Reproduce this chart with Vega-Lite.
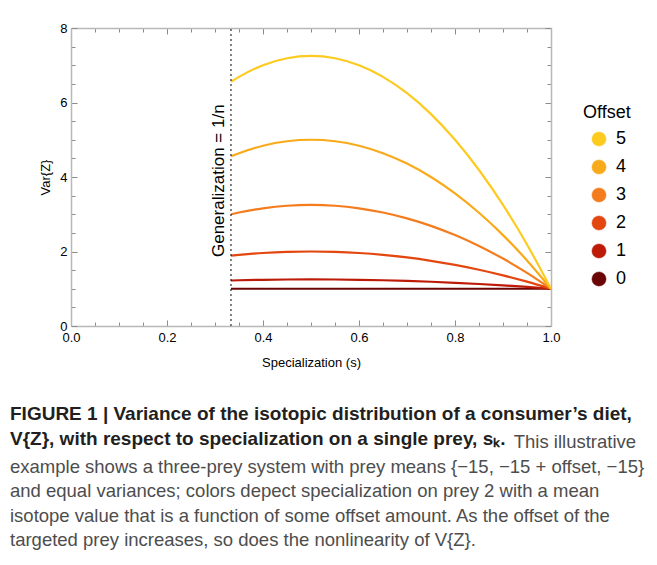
{
  "$schema": "https://vega.github.io/schema/vega-lite/v6.json",
  "width": 480,
  "height": 298,
  "autosize": "none",
  "padding": {"left": 71, "top": 28, "right": 106, "bottom": 239},
  "background": "white",
  "config": {
    "view": {"stroke": null},
    "font": "Liberation Sans",
    "axis": {"grid": false, "labelFlush": false, "domainColor": "#b8b8b8", "domainWidth": 1.5, "tickColor": "#8c8c8c", "labelColor": "black", "titleColor": "black", "labelFont": "Liberation Sans", "titleFont": "Liberation Sans", "labelFontSize": 13, "titleFontSize": 13, "titleFontWeight": "normal"}
  },
  "data": {"values": [
    {"s": 0.3333, "v": 1, "Offset": "0"}, {"s": 0.35, "v": 1, "Offset": "0"}, {"s": 0.4, "v": 1, "Offset": "0"}, {"s": 0.45, "v": 1, "Offset": "0"}, {"s": 0.5, "v": 1, "Offset": "0"}, {"s": 0.55, "v": 1, "Offset": "0"}, {"s": 0.6, "v": 1, "Offset": "0"}, {"s": 0.65, "v": 1, "Offset": "0"}, {"s": 0.7, "v": 1, "Offset": "0"}, {"s": 0.75, "v": 1, "Offset": "0"}, {"s": 0.8, "v": 1, "Offset": "0"}, {"s": 0.85, "v": 1, "Offset": "0"}, {"s": 0.9, "v": 1, "Offset": "0"}, {"s": 0.95, "v": 1, "Offset": "0"}, {"s": 1.0, "v": 1, "Offset": "0"},
    {"s": 0.3333, "v": 1.222, "Offset": "1"}, {"s": 0.35, "v": 1.228, "Offset": "1"}, {"s": 0.4, "v": 1.24, "Offset": "1"}, {"s": 0.45, "v": 1.248, "Offset": "1"}, {"s": 0.5, "v": 1.25, "Offset": "1"}, {"s": 0.55, "v": 1.248, "Offset": "1"}, {"s": 0.6, "v": 1.24, "Offset": "1"}, {"s": 0.65, "v": 1.228, "Offset": "1"}, {"s": 0.7, "v": 1.21, "Offset": "1"}, {"s": 0.75, "v": 1.188, "Offset": "1"}, {"s": 0.8, "v": 1.16, "Offset": "1"}, {"s": 0.85, "v": 1.128, "Offset": "1"}, {"s": 0.9, "v": 1.09, "Offset": "1"}, {"s": 0.95, "v": 1.048, "Offset": "1"}, {"s": 1.0, "v": 1.0, "Offset": "1"},
    {"s": 0.3333, "v": 1.889, "Offset": "2"}, {"s": 0.35, "v": 1.91, "Offset": "2"}, {"s": 0.4, "v": 1.96, "Offset": "2"}, {"s": 0.45, "v": 1.99, "Offset": "2"}, {"s": 0.5, "v": 2.0, "Offset": "2"}, {"s": 0.55, "v": 1.99, "Offset": "2"}, {"s": 0.6, "v": 1.96, "Offset": "2"}, {"s": 0.65, "v": 1.91, "Offset": "2"}, {"s": 0.7, "v": 1.84, "Offset": "2"}, {"s": 0.75, "v": 1.75, "Offset": "2"}, {"s": 0.8, "v": 1.64, "Offset": "2"}, {"s": 0.85, "v": 1.51, "Offset": "2"}, {"s": 0.9, "v": 1.36, "Offset": "2"}, {"s": 0.95, "v": 1.19, "Offset": "2"}, {"s": 1.0, "v": 1.0, "Offset": "2"},
    {"s": 0.3333, "v": 3.0, "Offset": "3"}, {"s": 0.35, "v": 3.048, "Offset": "3"}, {"s": 0.4, "v": 3.16, "Offset": "3"}, {"s": 0.45, "v": 3.228, "Offset": "3"}, {"s": 0.5, "v": 3.25, "Offset": "3"}, {"s": 0.55, "v": 3.228, "Offset": "3"}, {"s": 0.6, "v": 3.16, "Offset": "3"}, {"s": 0.65, "v": 3.048, "Offset": "3"}, {"s": 0.7, "v": 2.89, "Offset": "3"}, {"s": 0.75, "v": 2.688, "Offset": "3"}, {"s": 0.8, "v": 2.44, "Offset": "3"}, {"s": 0.85, "v": 2.148, "Offset": "3"}, {"s": 0.9, "v": 1.81, "Offset": "3"}, {"s": 0.95, "v": 1.428, "Offset": "3"}, {"s": 1.0, "v": 1.0, "Offset": "3"},
    {"s": 0.3333, "v": 4.556, "Offset": "4"}, {"s": 0.35, "v": 4.64, "Offset": "4"}, {"s": 0.4, "v": 4.84, "Offset": "4"}, {"s": 0.45, "v": 4.96, "Offset": "4"}, {"s": 0.5, "v": 5.0, "Offset": "4"}, {"s": 0.55, "v": 4.96, "Offset": "4"}, {"s": 0.6, "v": 4.84, "Offset": "4"}, {"s": 0.65, "v": 4.64, "Offset": "4"}, {"s": 0.7, "v": 4.36, "Offset": "4"}, {"s": 0.75, "v": 4.0, "Offset": "4"}, {"s": 0.8, "v": 3.56, "Offset": "4"}, {"s": 0.85, "v": 3.04, "Offset": "4"}, {"s": 0.9, "v": 2.44, "Offset": "4"}, {"s": 0.95, "v": 1.76, "Offset": "4"}, {"s": 1.0, "v": 1.0, "Offset": "4"},
    {"s": 0.3333, "v": 6.556, "Offset": "5"}, {"s": 0.35, "v": 6.688, "Offset": "5"}, {"s": 0.4, "v": 7.0, "Offset": "5"}, {"s": 0.45, "v": 7.188, "Offset": "5"}, {"s": 0.5, "v": 7.25, "Offset": "5"}, {"s": 0.55, "v": 7.188, "Offset": "5"}, {"s": 0.6, "v": 7.0, "Offset": "5"}, {"s": 0.65, "v": 6.688, "Offset": "5"}, {"s": 0.7, "v": 6.25, "Offset": "5"}, {"s": 0.75, "v": 5.688, "Offset": "5"}, {"s": 0.8, "v": 5.0, "Offset": "5"}, {"s": 0.85, "v": 4.188, "Offset": "5"}, {"s": 0.9, "v": 3.25, "Offset": "5"}, {"s": 0.95, "v": 2.188, "Offset": "5"}, {"s": 1.0, "v": 1.0, "Offset": "5"}
  ]},
  "title": {
    "text": ["FIGURE 1 | Variance of the isotopic distribution of a consumer’s diet,", "V{Z}, with respect to specialization on a single prey, sₖ."],
    "subtitle": ["\u200b\u00a0\u00a0\u00a0\u00a0\u00a0\u00a0\u00a0\u00a0\u00a0\u00a0\u00a0\u00a0\u00a0\u00a0\u00a0\u00a0\u00a0\u00a0\u00a0\u00a0\u00a0\u00a0\u00a0\u00a0\u00a0\u00a0\u00a0\u00a0\u00a0\u00a0\u00a0\u00a0\u00a0\u00a0\u00a0\u00a0\u00a0\u00a0\u00a0\u00a0\u00a0\u00a0\u00a0\u00a0\u00a0\u00a0\u00a0\u00a0\u00a0\u00a0\u00a0\u00a0\u00a0\u00a0\u00a0\u00a0\u00a0\u00a0\u00a0\u00a0\u00a0\u00a0\u00a0\u00a0\u00a0\u00a0\u00a0\u00a0\u00a0\u00a0\u00a0\u00a0\u00a0\u00a0\u00a0\u00a0\u00a0\u00a0\u00a0\u00a0\u00a0\u00a0\u00a0\u00a0\u00a0\u00a0\u00a0\u00a0\u00a0\u00a0\u00a0\u00a0\u00a0\u00a0\u00a0\u00a0\u00a0\u00a0This illustrative", "example shows a three-prey system with prey means {−15, −15 + offset, −15}", "and equal variances; colors depect specialization on prey 2 with a mean", "isotope value that is a function of some offset amount. As the offset of the", "targeted prey increases, so does the nonlinearity of V{Z}."],
    "orient": "bottom",
    "anchor": "start",
    "frame": "group",
    "dx": -61,
    "offset": 36,
    "font": "Liberation Sans",
    "fontSize": 19,
    "fontWeight": "bold",
    "color": "#231f20",
    "lineHeight": 24.5,
    "subtitleFont": "Liberation Sans",
    "subtitleFontSize": 18.5,
    "subtitleFontWeight": "normal",
    "subtitleColor": "#4d4d4d",
    "subtitleLineHeight": 24.5,
    "subtitlePadding": -15.5
  },
  "resolve": {"axis": {"x": "independent", "y": "independent"}},
  "layer": [
    {
      "mark": {"type": "line", "interpolate": "monotone", "strokeWidth": 2.2},
      "encoding": {
        "x": {"field": "s", "type": "quantitative", "scale": {"domain": [0, 1], "nice": false},
          "axis": {"orient": "bottom", "title": "Specialization (s)", "values": [0, 0.05, 0.1, 0.15, 0.2, 0.25, 0.3, 0.35, 0.4, 0.45, 0.5, 0.55, 0.6, 0.65, 0.7, 0.75, 0.8, 0.85, 0.9, 0.95, 1.0],
            "labelExpr": "abs(datum.value*5 - round(datum.value*5)) < 0.001 ? format(datum.value, '.1f') : ''",
            "tickSize": {"condition": {"test": "abs(datum.value*5 - round(datum.value*5)) < 0.001", "value": -6}, "value": -4},
            "labelPadding": 11, "titlePadding": 12}},
        "y": {"field": "v", "type": "quantitative", "scale": {"domain": [0, 8], "nice": false},
          "axis": {"orient": "left", "title": "Var{Z}", "values": [0, 0.5, 1, 1.5, 2, 2.5, 3, 3.5, 4, 4.5, 5, 5.5, 6, 6.5, 7, 7.5, 8],
            "labelExpr": "datum.value % 2 == 0 ? format(datum.value, 'd') : ''",
            "tickSize": {"condition": {"test": "datum.value % 2 == 0", "value": -6}, "value": -4},
            "labelPadding": 10, "titlePadding": 7}},
        "color": {"field": "Offset", "type": "nominal",
          "scale": {"domain": ["5", "4", "3", "2", "1", "0"], "range": ["#fdcb1f", "#f9aa1a", "#f57c1c", "#e3470f", "#bd1a08", "#6b0505"]},
          "legend": {"orient": "none", "legendX": 512, "legendY": 76, "title": "Offset", "titleFontSize": 18, "titleFontWeight": "normal", "titleColor": "black", "titlePadding": 8, "labelFontSize": 18, "labelColor": "black", "symbolType": "circle", "symbolSize": 200, "symbolOffset": 7, "rowPadding": 10, "labelOffset": 8,
            "encode": {"symbols": {"update": {"fill": {"scale": "color", "field": "value"}, "fillOpacity": {"value": 1}, "stroke": {"value": "#c8c8c8"}, "strokeWidth": {"value": 0.5}}}}}
        }
      }
    },
    {
      "data": {"values": [{}]},
      "mark": {"type": "rule", "color": "black", "strokeDash": [2, 3], "strokeWidth": 1},
      "encoding": {
        "x": {"datum": 0.3333, "type": "quantitative", "axis": null},
        "y": {"datum": 0, "type": "quantitative", "axis": null},
        "y2": {"datum": 8}
      }
    },
    {
      "data": {"values": [{}]},
      "mark": {"type": "text", "text": "Generalization = 1/n", "angle": 270, "align": "center", "baseline": "bottom", "dy": -3, "fontSize": 17, "font": "Liberation Sans", "color": "black"},
      "encoding": {
        "x": {"datum": 0.3333, "type": "quantitative", "axis": null},
        "y": {"datum": 3.9, "type": "quantitative", "axis": null}
      }
    },
    {
      "data": {"values": [{}]},
      "mark": {"type": "point", "opacity": 0},
      "encoding": {
        "x": {"datum": 0.5, "type": "quantitative",
          "axis": {"orient": "top", "title": null, "labels": false, "values": [0, 0.05, 0.1, 0.15, 0.2, 0.25, 0.3, 0.35, 0.4, 0.45, 0.5, 0.55, 0.6, 0.65, 0.7, 0.75, 0.8, 0.85, 0.9, 0.95, 1.0],
            "tickSize": {"condition": {"test": "abs(datum.value*5 - round(datum.value*5)) < 0.001", "value": -6}, "value": -4}}},
        "y": {"datum": 4, "type": "quantitative",
          "axis": {"orient": "right", "title": null, "labels": false, "values": [0, 0.5, 1, 1.5, 2, 2.5, 3, 3.5, 4, 4.5, 5, 5.5, 6, 6.5, 7, 7.5, 8],
            "tickSize": {"condition": {"test": "datum.value % 2 == 0", "value": -6}, "value": -4}}}
      }
    }
  ]
}
